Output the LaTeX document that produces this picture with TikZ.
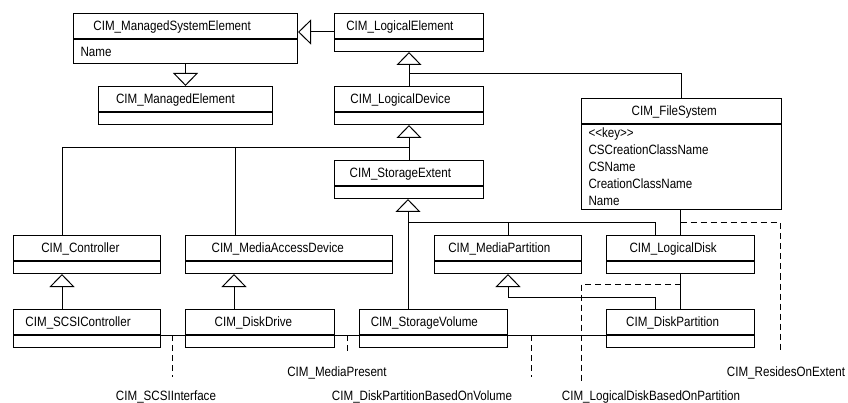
\documentclass[tikz,border=0pt]{standalone}
\usepackage{fontspec}
\setmainfont{Liberation Sans}[FakeStretch=0.86]
\usetikzlibrary{arrows.meta,calc}

\newcommand{\cname}[1]{\makebox[1.17\width][l]{#1}}

\begin{document}
\begin{tikzpicture}[x=1pt,y=-1pt,line width=1pt,
  font=\fontsize{13.5}{17}\selectfont,
  hdr/.style={draw,anchor=north west,inner sep=0pt,minimum height=25pt,text height=9.7pt,text depth=0pt},
  comp/.style={draw,anchor=north,inner sep=0pt,minimum height=12pt},
  attr/.style={draw,anchor=north,inner xsep=7pt,inner ysep=0pt,align=left},
  inh/.style={-{Triangle[open,length=13pt,width=25pt]}},
  assoc/.style={dash pattern=on 6pt off 4pt},
  lbl/.style={inner sep=0pt,text height=9.7pt,text depth=0pt}]

\useasboundingbox (0,0) rectangle (848,403);

\node[hdr,minimum width=224pt] (mse) at (73,13) {\cname{CIM\_ManagedSystemElement}};
\node[attr,text width=210pt,minimum height=24pt] (mse-c) at (mse.south) {Name};
\node[hdr,minimum width=174pt] (me) at (98,86) {\cname{CIM\_ManagedElement}};
\node[comp,minimum width=174pt] (me-c) at (me.south) {};

\node[hdr,minimum width=149pt] (le) at (334,13) {\cname{CIM\_LogicalElement}};
\node[comp,minimum width=149pt] (le-c) at (le.south) {};
\node[hdr,minimum width=149pt] (ld) at (334,86) {\cname{CIM\_LogicalDevice}};
\node[comp,minimum width=149pt] (ld-c) at (ld.south) {};
\node[hdr,minimum width=149pt] (se) at (334,160) {\cname{CIM\_StorageExtent}};
\node[comp,minimum width=149pt] (se-c) at (se.south) {};

\node[hdr,minimum width=200pt] (fs) at (581,98) {\cname{CIM\_FileSystem}};
\node[attr,text width=186pt,minimum height=85pt] (fs-c) at (fs.south)
  {<{}<key>{}>\\CSCreationClassName\\CSName\\CreationClassName\\Name};

\node[hdr,minimum width=147pt] (ctl) at (13,235) {\cname{CIM\_Controller}};
\node[comp,minimum width=147pt] (ctl-c) at (ctl.south) {};
\node[hdr,minimum width=207pt] (mad) at (185,235) {\cname{CIM\_MediaAccessDevice}};
\node[comp,minimum width=207pt] (mad-c) at (mad.south) {};
\node[hdr,minimum width=147pt] (mp) at (434,235) {\cname{CIM\_MediaPartition}};
\node[comp,minimum width=147pt] (mp-c) at (mp.south) {};
\node[hdr,minimum width=148pt] (ldk) at (606,235) {\cname{CIM\_LogicalDisk}};
\node[comp,minimum width=148pt] (ldk-c) at (ldk.south) {};

\node[hdr,minimum width=147pt] (scsi) at (13,309) {\cname{CIM\_SCSIController}};
\node[comp,minimum width=147pt] (scsi-c) at (scsi.south) {};
\node[hdr,minimum width=149pt] (dd) at (185,309) {\cname{CIM\_DiskDrive}};
\node[comp,minimum width=149pt] (dd-c) at (dd.south) {};
\node[hdr,minimum width=148pt] (sv) at (359,309) {\cname{CIM\_StorageVolume}};
\node[comp,minimum width=148pt] (sv-c) at (sv.south) {};
\node[hdr,minimum width=148pt] (dp) at (606,309) {\cname{CIM\_DiskPartition}};
\node[comp,minimum width=148pt] (dp-c) at (dp.south) {};

\node[lbl] (scsii) at (166,396) {CIM\_SCSIInterface};
\node[lbl] (mpres) at (337,372) {CIM\_MediaPresent};
\node[lbl] (dpbov) at (422,396) {CIM\_DiskPartitionBasedOnVolume};
\node[lbl] (ldbop) at (651,396) {CIM\_LogicalDiskBasedOnPartition};
\node[lbl] (reo) at (786,372) {CIM\_ResidesOnExtent};

\coordinate (le-w) at ([yshift=-6pt]le.west);
\coordinate (ctl-t) at ([xshift=49pt]ctl.north west);
\coordinate (mad-t) at ([xshift=50pt]mad.north west);
\coordinate (scsi-t) at ([xshift=49pt]scsi.north west);
\coordinate (dd-t) at ([xshift=49pt]dd.north west);
\coordinate (sv-t) at ([xshift=49pt]sv.north west);
\coordinate (ldk-t) at ([xshift=49pt]ldk.north west);
\coordinate (dp-t) at ([xshift=49pt]dp.north west);

\coordinate (scsii-e) at (172,377);
\coordinate (mpres-e) at (347,353);
\coordinate (dpbov-e) at (531,377);
\coordinate (ldbop-e) at (581,383);
\coordinate (reo-e) at (780,353);

\draw[inh] (mse-c.south) -- (me.north);
\draw[inh] (le-w) -- (le-w -| mse.east);
\draw[inh] (ld.north) -- (le-c.south);
\draw (fs.north) |- (ld.north |- 0,74);
\draw[inh] (se.north) -- (ld-c.south);
\draw (ctl-t) |- (se.north |- 0,148);
\draw (mad-t) -- (mad-t |- 0,148);
\draw[inh] (sv-t) -- (sv-t |- se-c.south);
\draw (mp.north) |- (sv-t |- 0,223);
\draw (ldk-t) |- (mp.north |- 0,223);
\draw[inh] (scsi-t) -- (scsi-t |- ctl-c.south);
\draw[inh] (dd-t) -- (dd-t |- mad-c.south);
\draw[inh] (dp-t) |- (mp-c.south |- 0,297) -- (mp-c.south);
\draw (ldk.north |- fs-c.south) -- (ldk.north);
\draw (ldk-c.south) -- (dp.north);

\draw (scsi.south east) -- (dd.south west);
\draw (dd.south east) -- (sv.south west);
\draw (sv.south east) -- (dp.south west);

\draw[assoc] (scsii-e |- scsi.south east) -- (scsii-e);
\draw[assoc] (mpres-e |- dd.south east) -- (mpres-e);
\draw[assoc] (dpbov-e |- sv.south east) -- (dpbov-e);
\draw[assoc] (dp.north |- 0,284) -| (ldbop-e);
\draw[assoc] (ldk.north |- 0,223) -| (reo-e);

\end{tikzpicture}
\end{document}
